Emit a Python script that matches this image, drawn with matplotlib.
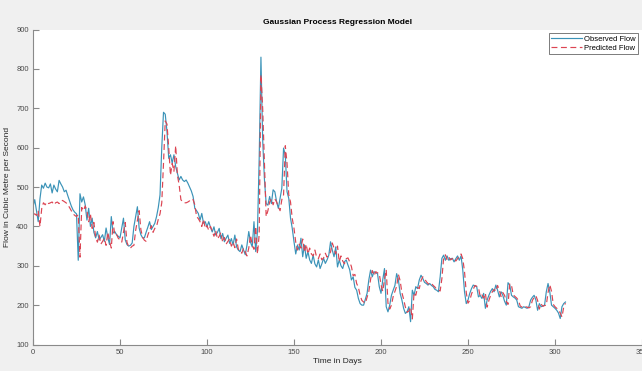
import matplotlib
matplotlib.use("Agg")
import matplotlib.pyplot as plt
import numpy as np

# daily flow values (day 0 .. 306)
observed_flow = [
    450, 468, 440, 412, 470, 505, 497, 510, 500, 498,
    508, 485, 505, 495, 488, 517, 508, 500, 488, 492,
    478, 465, 452, 442, 436, 432, 314, 483, 462, 475,
    455, 416, 446, 400, 421, 385, 371, 387, 366, 372,
    379, 362, 396, 372, 354, 425, 383, 387, 379, 375,
    371, 396, 421, 366, 354, 350, 352, 358, 400, 425,
    450, 396, 379, 371, 371, 385, 398, 412, 392, 400,
    408, 425, 448, 480, 600, 690, 685, 641, 573, 582,
    561, 582, 552, 535, 518, 527, 518, 514, 518, 510,
    500, 490, 476, 446, 440, 433, 416, 433, 408, 412,
    399, 412, 398, 386, 399, 378, 385, 395, 369, 382,
    361, 370, 378, 357, 369, 353, 378, 348, 340, 336,
    353, 340, 328, 353, 387, 360, 348, 412, 336, 387,
    574, 830, 620, 520, 458, 454, 476, 458, 493, 488,
    463, 446, 471, 497, 599, 581, 488, 471, 421, 395,
    361, 330, 353, 340, 370, 323, 353, 319, 336, 315,
    306, 327, 305, 297, 315, 293, 305, 319, 306, 315,
    327, 361, 340, 323, 348, 297, 315, 300, 293, 310,
    315, 302, 290, 264, 272, 245, 238, 217, 204, 200,
    200, 215, 230, 264, 289, 272, 285, 282, 280, 247,
    230, 264, 293, 196, 183, 200, 225, 238, 250, 280,
    264, 230, 213, 192, 179, 183, 196, 158, 238, 225,
    247, 242, 264, 276, 268, 258, 255, 251, 255, 250,
    247, 240, 238, 234, 272, 319, 327, 314, 325, 314,
    318, 319, 310, 318, 325, 314, 325, 289, 234, 204,
    213, 230, 242, 251, 249, 247, 221, 225, 217, 230,
    192, 213, 225, 235, 242, 234, 251, 238, 221, 234,
    225, 210, 200, 257, 251, 225, 221, 218, 213, 196,
    194, 192, 196, 194, 192, 196, 213, 220, 225, 213,
    187, 204, 196, 198, 200, 234, 255, 234, 200, 196,
    192, 187, 180, 166, 196, 204, 208,
]

predicted_flow = [
    430, 432, 428, 440, 400, 445, 460, 455, 462, 458,
    460, 462, 455, 460, 462, 458, 465, 466, 463, 460,
    455, 448, 440, 432, 428, 425, 430, 322, 448, 440,
    452, 440, 412, 432, 395, 410, 372, 360, 378, 355,
    362, 370, 352, 385, 362, 345, 412, 378, 380, 370,
    366, 360, 385, 410, 360, 348, 345, 350, 352, 390,
    415, 440, 392, 372, 365, 362, 378, 390, 402, 385,
    395, 400, 418, 432, 460, 560, 668, 660, 600, 530,
    560, 540, 605, 530, 505, 468, 462, 460, 460, 462,
    465, 470, 468, 455, 425, 420, 412, 400, 418, 395,
    402, 390, 400, 388, 375, 390, 368, 375, 385, 360,
    372, 355, 362, 368, 350, 360, 346, 368, 342, 335,
    332, 345, 335, 325, 345, 378, 352, 342, 400, 330,
    380, 785, 700, 560, 425, 440, 462, 470, 455, 470,
    462, 450, 440, 468, 480, 605, 560, 480, 462, 420,
    395, 360, 340, 355, 345, 368, 335, 355, 330, 345,
    330, 325, 340, 322, 318, 330, 315, 320, 332, 322,
    328, 335, 358, 345, 330, 350, 310, 325, 312, 305,
    318, 320, 310, 298, 275, 278, 255, 245, 225, 212,
    208, 205, 220, 235, 265, 288, 275, 285, 282, 280,
    252, 235, 265, 290, 205, 190, 200, 222, 235, 248,
    278, 262, 232, 215, 195, 182, 185, 195, 165, 232,
    225, 245, 242, 262, 272, 268, 260, 255, 252, 255,
    250, 246, 240, 238, 236, 268, 320, 328, 315, 322,
    315, 318, 320, 312, 318, 325, 330, 318, 285, 232,
    205, 212, 228, 240, 250, 248, 245, 222, 226, 218,
    230, 195, 212, 225, 234, 240, 235, 250, 238, 222,
    232, 225, 210, 202, 255, 250, 226, 222, 218, 212,
    198, 195, 193, 196, 195, 193, 196, 212, 220, 224,
    212, 190, 203, 197, 199, 200, 232, 252, 235, 202,
    196, 192, 188, 180, 170, 195, 205,
]

days = np.arange(len(observed_flow))

plt.rcParams['font.family'] = ['Liberation Sans', 'DejaVu Sans']

fig = plt.figure(figsize=(6.42, 3.71), dpi=100, facecolor='#f0f0f0')
ax = fig.add_axes([0.0514, 0.0714, 0.9486, 0.8488])
ax.set_facecolor('white')

ax.plot(days, observed_flow, color='#3b93b8', linewidth=0.85, label='Observed Flow')
ax.plot(days, predicted_flow, color='#dc4452', linewidth=0.85, linestyle=(0, (5, 3)),
        label='Predicted Flow')

ax.set_xlim(0, 350)
ax.set_ylim(100, 900)
ax.set_xticks(np.arange(0, 351, 50))
ax.set_yticks(np.arange(100, 901, 100))

for side in ['top', 'right']:
    ax.spines[side].set_visible(False)
for side in ['left', 'bottom']:
    ax.spines[side].set_color('#8a8a8a')
    ax.spines[side].set_linewidth(0.8)
ax.tick_params(direction='in', length=4, width=0.8, color='#8a8a8a',
               labelsize=5.5, labelcolor='#4a4a4a', pad=3)

ax.set_title('Gaussian Process Regression Model', fontsize=6, fontweight='bold', pad=4)
ax.set_xlabel('Time in Days', fontsize=6, color='#262626', labelpad=2)
ax.set_ylabel('Flow in Cubic Metre per Second', fontsize=6, color='#262626', labelpad=4)

leg = ax.legend(loc='upper right', fontsize=5.5, frameon=True, fancybox=False,
                handlelength=4, borderaxespad=0.5, borderpad=0.3, labelspacing=0.2,
                handletextpad=0.3)
leg.get_frame().set_edgecolor('#404040')
leg.get_frame().set_linewidth(0.6)

fig.savefig('out.png', dpi=100, facecolor=fig.get_facecolor())
